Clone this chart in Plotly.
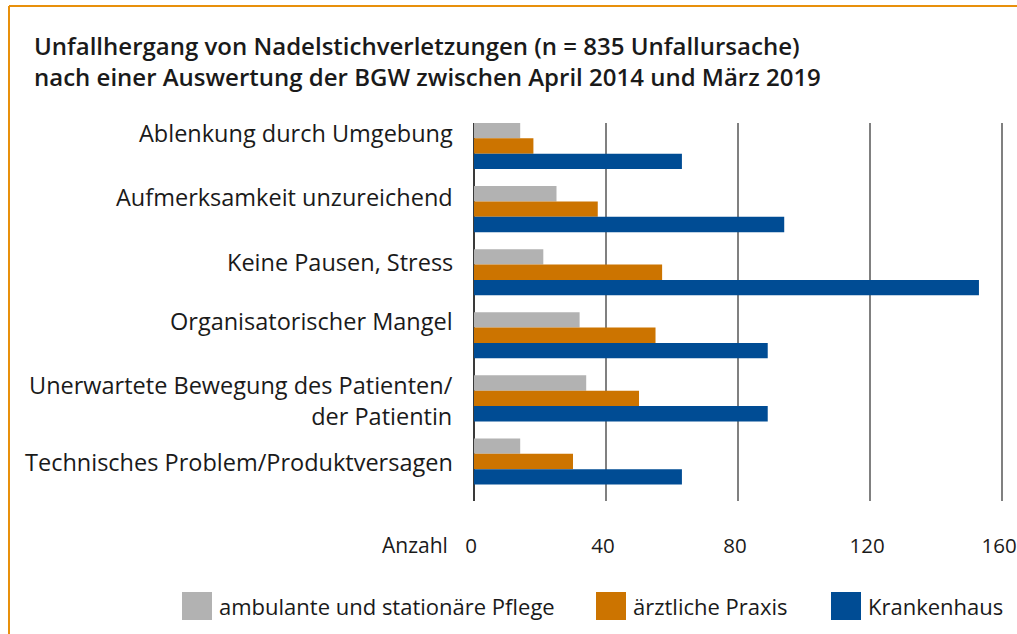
import plotly.graph_objects as go

categories = [
    "Ablenkung durch Umgebung",
    "Aufmerksamkeit unzureichend",
    "Keine Pausen, Stress",
    "Organisatorischer Mangel",
    "Unerwartete Bewegung des Patienten/<br>der Patientin",
    "Technisches Problem/Produktversagen",
]
pflege = [14, 25, 21, 32, 34, 14]
praxis = [18, 37.5, 57, 55, 50, 30]
krankenhaus = [63, 94, 153, 89, 89, 63]
series_names = ["ambulante und stationäre Pflege", "ärztliche Praxis", "Krankenhaus"]
colors = ["#b2b2b2", "#cc7400", "#004c94"]
x_ticks = [0, 40, 80, 120, 160]
title_text = ("Unfallhergang von Nadelstichverletzungen (n = 835 Unfallursache)<br>"
              "nach einer Auswertung der BGW zwischen April 2014 und März 2019")

W, H = 1017, 634
X_MAX = 161.5
L, T, B = 474, 123, 133
PW = round(528 * X_MAX / 160)
R = W - L - PW
PH = H - T - B
FONT = "Open Sans"
TXT = "#1a1a1a"

def px(x):
    return (x - L) / PW

def py(y):
    return (H - B - y) / PH

fig = go.Figure()
for name, vals, col in zip(series_names, [pflege, praxis, krankenhaus], colors):
    fig.add_trace(go.Bar(
        y=list(range(len(categories))), x=vals, orientation="h", name=name,
        marker=dict(color=col, line=dict(width=0)), showlegend=False,
    ))

annotations = []
# title
annotations.append(dict(
    x=px(32), xref="paper", y=py(61), yref="paper", text=title_text, showarrow=False,
    xanchor="left", yanchor="middle", align="left",
    font=dict(family=FONT, size=24, color=TXT, weight=600),
))

# category labels
label_shift = [13, 12, 10, 14, -2, 0]
for i, (c, s) in enumerate(zip(categories, label_shift)):
    annotations.append(dict(
        x=0, xref="paper", y=i, yref="y", text=c, showarrow=False,
        xanchor="right", yanchor="middle", align="right", xshift=-19, yshift=s,
        font=dict(family=FONT, size=23.5, color=TXT),
    ))
annotations.append(dict(
    x=px(450), xref="paper", y=py(545), yref="paper", text="Anzahl", showarrow=False,
    xanchor="right", yanchor="middle", font=dict(family=FONT, size=21, color=TXT),
))

# legend (manual)
shapes = []
leg_sq = [182, 596, 831]
for name, col, x0 in zip(series_names, colors, leg_sq):
    shapes.append(dict(type="rect", xref="paper", yref="paper",
                       x0=px(x0), x1=px(x0 + 30), y0=py(620), y1=py(592),
                       fillcolor=col, line=dict(width=0)))
    annotations.append(dict(
        x=px(x0 + 35), xref="paper", y=py(606), yref="paper", text=name, showarrow=False,
        xanchor="left", yanchor="middle", font=dict(family=FONT, size=22, color=TXT),
    ))

# orange frame
shapes.append(dict(type="line", xref="paper", yref="paper", x0=px(9), x1=px(1020),
                   y0=py(6), y1=py(6), line=dict(color="#e8900c", width=2)))
shapes.append(dict(type="line", xref="paper", yref="paper", x0=px(9), x1=px(9),
                   y0=py(6), y1=py(640), line=dict(color="#e8900c", width=2)))

fig.update_layout(
    width=W, height=H,
    margin=dict(l=L, r=R, t=T, b=B, pad=0, autoexpand=False),
    paper_bgcolor="white", plot_bgcolor="white",
    barmode="group", bargap=0.27, bargroupgap=0,
    xaxis=dict(
        range=[0, X_MAX], tickvals=x_ticks, ticktext=[str(v) for v in x_ticks],
        showgrid=True, gridcolor="#808080", gridwidth=2,
        zeroline=True, zerolinecolor="#3a3a3a", zerolinewidth=2,
        showline=False, ticks="", ticklabelstandoff=30, ticklabelshift=-3,
        ticklabeloverflow="allow", automargin=False,
        tickfont=dict(family=FONT, size=20.5, color=TXT), fixedrange=True,
    ),
    yaxis=dict(
        range=[5.626, -0.3645], showticklabels=False, showgrid=False, automargin=False,
        zeroline=False, showline=False, ticks="", fixedrange=True,
    ),
    annotations=annotations, shapes=shapes,
    font=dict(family=FONT),
)

fig.write_html(
    "out.html",
    config={"displayModeBar": False},
    post_script="document.body.style.margin='0';document.body.style.overflow='hidden';",
)
